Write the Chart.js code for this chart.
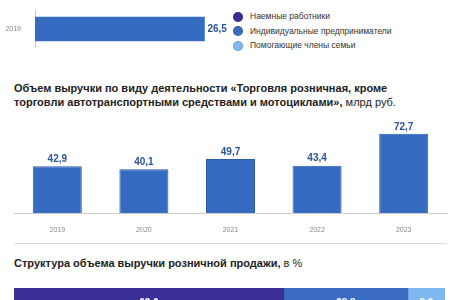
<!DOCTYPE html>
<html>
<head>
<meta charset="utf-8">
<script src="https://cdn.jsdelivr.net/npm/chart.js@4"></script>
<style>
  body { margin: 0; width: 460px; height: 300px; overflow: hidden; background: #fff; position: relative; font-family: "Liberation Sans", Arial, sans-serif; }
  canvas, .abs { position: absolute; }
  .title { left: 14px; font-size: 11px; line-height: 14px; font-weight: bold; color: #222; }
  .title span { font-weight: normal; }
  .legend { left: 233px; top: 9px; font-size: 8.5px; color: #333; }
  .legend div { height: 14.5px; line-height: 14.5px; position: relative; padding-left: 17px; }
  .legend i { position: absolute; left: 0; top: 2.5px; width: 8px; height: 8px; border-radius: 50%; border: 1px solid rgba(0,0,0,0.15); }
  .sep { left: 14px; top: 243px; width: 433px; height: 1px; background: #ddd; }
</style>
</head>
<body>
<canvas id="topChart" style="left:0;top:0" width="230" height="58"></canvas>
<div class="abs legend" id="legend"></div>
<div class="abs title" style="top:81px">Объем выручки по виду деятельности «Торговля розничная, кроме<br>торговли автотранспортными средствами и мотоциклами», <span>млрд руб.</span></div>
<canvas id="revChart" style="left:0;top:112px" width="460" height="120"></canvas>
<div class="abs sep"></div>
<div class="abs title" style="top:256px">Структура объема выручки розничной продажи, <span>в %</span></div>
<canvas id="structChart" style="left:0;top:288px" width="460" height="24"></canvas>
<script>
const topYears = ['2019'];
const topValues = [26.5];

const years = ['2019', '2020', '2021', '2022', '2023'];
const revenue = [42.9, 40.1, 49.7, 43.4, 72.7];

const groups = ['Наемные работники', 'Индивидуальные предприниматели', 'Помогающие члены семьи'];
const groupColors = ['#3a2f95', '#3a6dc2', '#7fb8f0'];
const structure = [62.6, 28.8, 8.6];

const barBlue = '#356bc0';
const fmt = v => v.toFixed(1).replace('.', ',');

// draws value labels: 'end' = right of bar, 'top' = above bar, 'center' = inside
const valueLabels = {
  id: 'valueLabels',
  afterDatasetsDraw(chart, args, opts) {
    const ctx = chart.ctx;
    ctx.save();
    ctx.font = 'bold ' + opts.size + 'px "Liberation Sans", Arial, sans-serif';
    chart.data.datasets.forEach((ds, i) => {
      chart.getDatasetMeta(i).data.forEach((bar, j) => {
        const txt = fmt(ds.data[j]);
        ctx.fillStyle = opts.color;
        if (opts.mode === 'end') {
          ctx.textAlign = 'left'; ctx.textBaseline = 'middle';
          ctx.fillText(txt, bar.x + 3, bar.y);
        } else if (opts.mode === 'top') {
          ctx.textAlign = 'center'; ctx.textBaseline = 'bottom';
          ctx.fillText(txt, bar.x, bar.y - 2);
        } else {
          ctx.textAlign = 'center'; ctx.textBaseline = 'middle';
          ctx.fillText(txt, (bar.x + bar.base) / 2, bar.y + 3);
        }
      });
    });
    ctx.restore();
  }
};

document.getElementById('legend').innerHTML = groups
  .map((g, i) => `<div><i style="background:${groupColors[i]}"></i>${g}</div>`).join('');

new Chart(document.getElementById('topChart'), {
  type: 'bar',
  data: { labels: topYears, datasets: [{ data: topValues, backgroundColor: barBlue, barThickness: 24 }] },
  options: {
    indexAxis: 'y', responsive: false, animation: false,
    plugins: { legend: { display: false }, tooltip: { enabled: false },
      valueLabels: { mode: 'end', size: 10, color: '#2b5395' } },
    scales: {
      x: { display: false, min: 0, max: 30.5 },
      y: { afterFit: s => { s.width = 35; }, grid: { display: false }, border: { color: '#ccc' },
        ticks: { color: '#888', padding: 6, font: { size: 7 } } }
    }
  },
  plugins: [valueLabels]
});

new Chart(document.getElementById('revChart'), {
  type: 'bar',
  data: { labels: years, datasets: [{ data: revenue, backgroundColor: barBlue, borderColor: '#2d5ca8', borderWidth: 1, categoryPercentage: 1, barPercentage: 0.566 }] },
  options: {
    responsive: false, animation: false,
    layout: { padding: { left: 14, right: 13, top: 3 } },
    plugins: { legend: { display: false }, tooltip: { enabled: false },
      valueLabels: { mode: 'top', size: 10, color: '#2b5395' } },
    scales: {
      y: { display: false, min: 0, max: 90 },
      x: { afterFit: s => { s.height = 19; }, grid: { display: false }, border: { color: '#ccc' },
        ticks: { color: '#888', padding: 5, font: { size: 7 } } }
    }
  },
  plugins: [valueLabels]
});

new Chart(document.getElementById('structChart'), {
  type: 'bar',
  data: {
    labels: [''],
    datasets: groups.map((g, i) => ({ label: g, data: [structure[i]], backgroundColor: groupColors[i], categoryPercentage: 1, barPercentage: 1 }))
  },
  options: {
    indexAxis: 'y', responsive: false, animation: false,
    layout: { padding: { left: 14, right: 15 } },
    plugins: { legend: { display: false }, tooltip: { enabled: false },
      valueLabels: { mode: 'center', size: 10, color: '#fff' } },
    scales: {
      x: { display: false, stacked: true, min: 0, max: 100 },
      y: { display: false, stacked: true }
    }
  },
  plugins: [valueLabels]
});
</script>
</body>
</html>
